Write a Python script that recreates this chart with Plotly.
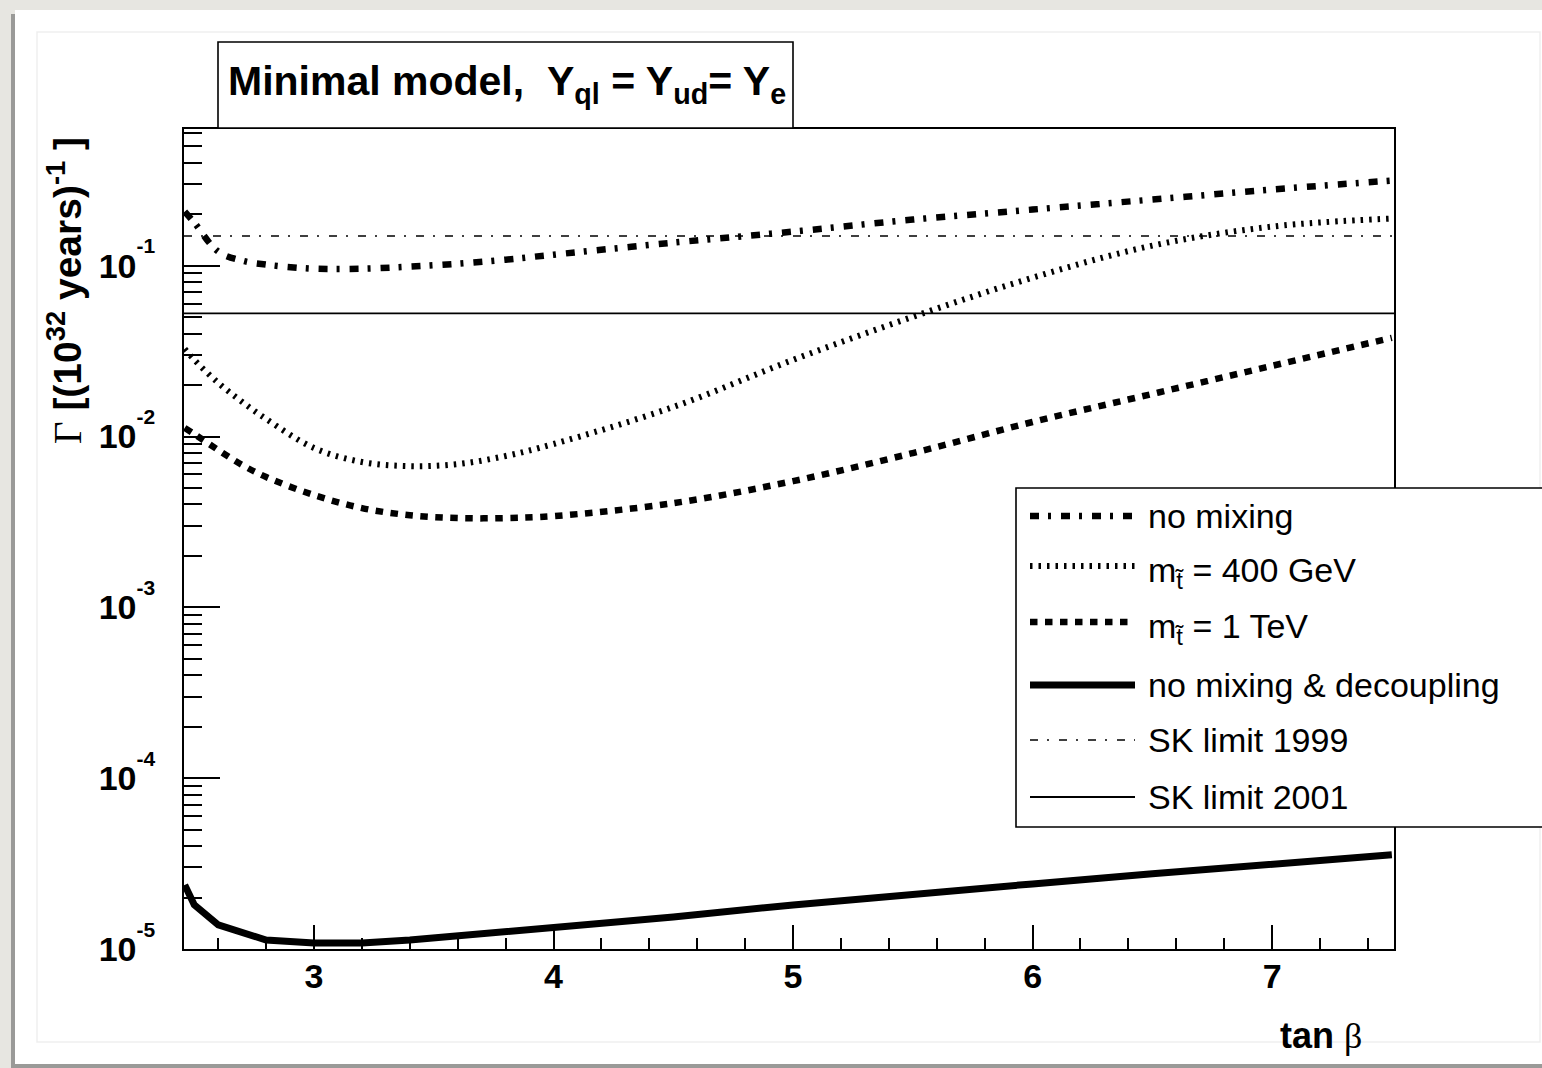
import plotly.graph_objects as go

# ---------------- data ----------------
tan_beta = [2.46, 2.5, 2.6, 2.7, 2.8, 3.0, 3.2, 3.4, 3.6, 3.8, 4.0, 4.5, 5.0, 5.5, 6.0, 6.5, 7.0, 7.5]
gamma_no_mixing = [0.2073, 0.1787, 0.1208, 0.1070, 0.1014, 0.0960, 0.0960, 0.0987, 0.1027, 0.1084,
                   0.1160, 0.1364, 0.1583, 0.1861, 0.2130, 0.2438, 0.2791, 0.3150]
gamma_mst_400 = [0.0326, 0.0281, 0.0206, 0.01593, 0.01266, 0.00856, 0.00709, 0.00671, 0.00690, 0.00769,
                 0.00904, 0.01489, 0.0281, 0.0502, 0.0851, 0.1310, 0.1693, 0.1887]
gamma_mst_1000 = [0.01122, 0.01034, 0.00833, 0.00681, 0.00579, 0.00454, 0.00381, 0.00346, 0.00333, 0.00333,
                  0.00342, 0.00407, 0.00548, 0.00800, 0.01216, 0.01775, 0.02592, 0.03782]
gamma_decoupling = [2.373e-5, 1.812e-5, 1.383e-5, 1.241e-5, 1.129e-5, 1.084e-5, 1.084e-5, 1.129e-5, 1.192e-5,
                    1.258e-5, 1.328e-5, 1.541e-5, 1.812e-5, 2.101e-5, 2.405e-5, 2.754e-5, 3.109e-5, 3.558e-5]
sk_x = [2.457, 7.509]
sk_limit_1999 = [0.149, 0.149]
sk_limit_2001 = [0.0526, 0.0526]

x_tick_vals = [3, 4, 5, 6, 7]
y_tick_vals = [1e-5, 1e-4, 1e-3, 1e-2, 1e-1]
y_tick_text = ["10", "10", "10", "10", "10"]
y_tick_exp = ["-5", "-4", "-3", "-2", "-1"]

legend_labels = [
    "no mixing",
    "m<sub>t\u0303</sub> = 400 GeV",
    "m<sub>t\u0303</sub> = 1 TeV",
    "no mixing & decoupling",
    "SK limit 1999",
    "SK limit 2001",
]
title_text = "<b>Minimal model,\u00a0\u00a0Y<sub>ql</sub> = Y<sub>ud</sub>= Y<sub>e</sub></b>"

# ---------------- layout geometry ----------------
W, H = 1542, 1068
L, R, T, B = 184, 1394, 129, 949


def px(x):
    return (x - L) / (R - L)


def py(y):
    return 1 - (y - T) / (B - T)


FONT = "Liberation Sans, Arial, Helvetica, sans-serif"
SERIF = "Liberation Serif, Times New Roman, serif"

styles = [
    dict(width=6.5, dash="9px,9px,3px,10px"),
    dict(width=6, dash="2.5px,6px"),
    dict(width=6.5, dash="7.5px,7.5px"),
    dict(width=7, dash="solid"),
    dict(width=1.5, dash="8px,9px,2px,10px"),
    dict(width=1.8, dash="solid"),
]

fig = go.Figure()
fig.add_trace(go.Scatter(x=sk_x, y=sk_limit_1999, mode="lines",
                         line=dict(color="black", **styles[4])))
fig.add_trace(go.Scatter(x=sk_x, y=sk_limit_2001, mode="lines",
                         line=dict(color="black", **styles[5])))
fig.add_trace(go.Scatter(x=tan_beta, y=gamma_no_mixing, mode="lines", line_shape="spline",
                         line=dict(color="black", **styles[0])))
fig.add_trace(go.Scatter(x=tan_beta, y=gamma_mst_400, mode="lines", line_shape="spline",
                         line=dict(color="black", **styles[1])))
fig.add_trace(go.Scatter(x=tan_beta, y=gamma_mst_1000, mode="lines", line_shape="spline",
                         line=dict(color="black", **styles[2])))
fig.add_trace(go.Scatter(x=tan_beta, y=gamma_decoupling, mode="lines",
                         line=dict(color="black", **styles[3])))

shapes = []
# grey surrounding + shadow + white canvas
shapes.append(dict(type="rect", xref="paper", yref="paper", layer="below",
                   x0=px(11), x1=px(1560), y0=py(14), y1=py(1070),
                   fillcolor="#9a9a98", line=dict(width=0)))
shapes.append(dict(type="rect", xref="paper", yref="paper", layer="below",
                   x0=px(15), x1=px(1560), y0=py(10), y1=py(1064),
                   fillcolor="white", line=dict(width=0)))
shapes.append(dict(type="rect", xref="paper", yref="paper", layer="below",
                   x0=px(37), x1=px(1540), y0=py(32), y1=py(1042),
                   fillcolor="white", line=dict(color="#efefef", width=1.5)))
# title box
shapes.append(dict(type="rect", xref="paper", yref="paper", layer="above",
                   x0=px(218), x1=px(793), y0=py(42), y1=py(128),
                   fillcolor="white", line=dict(color="black", width=1.6)))
# legend box
shapes.append(dict(type="rect", xref="paper", yref="paper", layer="above",
                   x0=px(1016), x1=px(1570), y0=py(488), y1=py(827),
                   fillcolor="white", line=dict(color="black", width=1.6)))
row_y = [516, 566, 622, 685, 740, 797]
for st, ry in zip(styles, row_y):
    shapes.append(dict(type="line", xref="paper", yref="paper", layer="above",
                       x0=px(1030), x1=px(1135), y0=py(ry), y1=py(ry),
                       line=dict(color="black", width=st["width"], dash=st["dash"])))

annotations = []
annotations.append(dict(xref="paper", yref="paper", x=px(507), y=py(84),
                        xanchor="center", yanchor="middle", showarrow=False,
                        text=title_text, font=dict(family=FONT, size=41, color="black")))
label_dy = [0, 6, 6, 0, 0, 0]
for lab, ry, dy in zip(legend_labels, row_y, label_dy):
    annotations.append(dict(xref="paper", yref="paper", x=px(1146), y=py(ry + dy),
                            xanchor="left", yanchor="middle", showarrow=False,
                            text=lab, font=dict(family=FONT, size=34, color="black")))
# y-axis title
annotations.append(dict(xref="paper", yref="paper", x=px(64), y=py(291),
                        xanchor="center", yanchor="middle", showarrow=False, textangle=-90,
                        text=("<span style='font-family:" + SERIF + ";font-weight:normal'>\u0393</span>"
                              "<b> [(10<sup>32</sup> years)<sup>-1</sup> ]</b>"),
                        font=dict(family=FONT, size=39, color="black")))
# x-axis title
annotations.append(dict(xref="paper", yref="paper", x=px(1364), y=py(1058),
                        xanchor="right", yanchor="bottom", showarrow=False,
                        text=("<b>tan</b> <span style='font-family:" + SERIF + "'>\u03b2</span>"),
                        font=dict(family=FONT, size=36, color="black")))

y_ticktext = ["<b>" + b + "<sup><sup><span style='font-size:21px'>" + e + "</span></sup></sup></b>"
              for b, e in zip(y_tick_text, y_tick_exp)]
minor_y = [m * 10 ** k for k in range(-5, 0) for m in range(2, 10)]

fig.update_layout(
    width=W, height=H,
    margin=dict(l=L, r=W - R, t=T, b=H - B, pad=0),
    paper_bgcolor="#e7e6e1",
    plot_bgcolor="white",
    showlegend=False,
    shapes=shapes,
    annotations=annotations,
    xaxis=dict(
        range=[2.457, 7.509], showgrid=False, zeroline=False,
        showline=True, linecolor="black", linewidth=2, mirror=True,
        ticks="inside", ticklen=24, tickwidth=1.5, tickcolor="black",
        tickmode="array", tickvals=x_tick_vals, ticktext=[f"<b>{v}</b>" for v in x_tick_vals],
        tickfont=dict(family=FONT, size=34, color="black"),
        ticklabelstandoff=-4,
        minor=dict(ticks="inside", ticklen=11, tickwidth=1.5, tickcolor="black",
                   tick0=0, dtick=0.2, showgrid=False),
    ),
    yaxis=dict(
        type="log", range=[-5, -0.2], showgrid=False, zeroline=False,
        showline=True, linecolor="black", linewidth=2, mirror=True,
        ticks="inside", ticklen=36, tickwidth=1.5, tickcolor="black",
        tickmode="array", tickvals=y_tick_vals, ticktext=y_ticktext,
        tickfont=dict(family=FONT, size=34, color="black"),
        ticklabelstandoff=20,
        minor=dict(ticks="inside", ticklen=18, tickwidth=1.5, tickcolor="black",
                   tickmode="array", tickvals=minor_y, showgrid=False),
    ),
)

fig.write_html("out.html")
